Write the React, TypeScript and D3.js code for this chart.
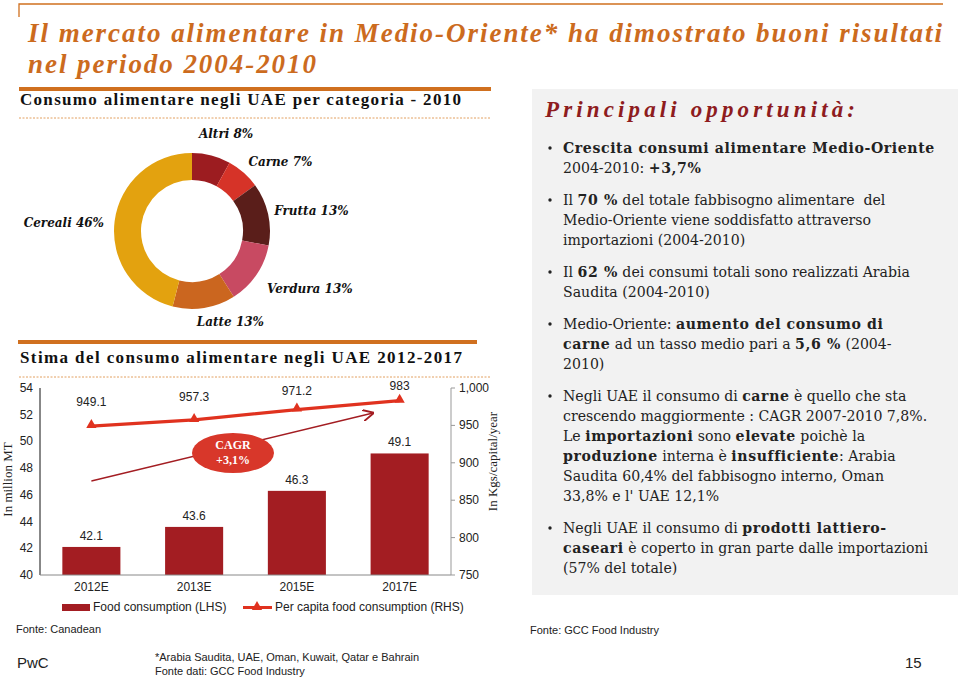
import * as d3 from 'd3';

// donut: UAE consumption by category, 2010
const categories = ['Altri', 'Carne', 'Frutta', 'Verdura', 'Latte', 'Cereali'];
const shares = [8, 7, 13, 13, 13, 46];
const sliceColors = ['#9c1c20', '#d63328', '#5a1e1a', '#c84a62', '#cb661f', '#e3a20f'];

// combo chart: UAE estimate 2012-2017
const years = ['2012E', '2013E', '2015E', '2017E'];
const foodConsumption = [42.1, 43.6, 46.3, 49.1];
const perCapita = [949.1, 957.3, 971.2, 983];
const leftTicks = [40, 42, 44, 46, 48, 50, 52, 54];
const rightTicks = [750, 800, 850, 900, 950, 1000];

type Seg = [string, boolean];
const bullets: Seg[][][] = [
  [
    [['Crescita consumi alimentare Medio-Oriente', true]],
    [['2004-2010: ', false], ['+3,7%', true]],
  ],
  [
    [['Il ', false], ['70 %', true], [' del totale fabbisogno alimentare  del', false]],
    [['Medio-Oriente viene soddisfatto attraverso', false]],
    [['importazioni (2004-2010)', false]],
  ],
  [
    [['Il ', false], ['62 %', true], [' dei consumi totali sono realizzati Arabia', false]],
    [['Saudita (2004-2010)', false]],
  ],
  [
    [['Medio-Oriente: ', false], ['aumento del consumo di', true]],
    [['carne', true], [' ad un tasso medio pari a ', false], ['5,6 %', true], [' (2004-', false]],
    [['2010)', false]],
  ],
  [
    [['Negli UAE il consumo di ', false], ['carne', true], [' è quello che sta', false]],
    [['crescendo maggiormente : CAGR 2007-2010 7,8%.', false]],
    [['Le ', false], ['importazioni', true], [' sono ', false], ['elevate', true], [' poichè la', false]],
    [['produzione', true], [' interna è ', false], ['insufficiente', true], [': Arabia', false]],
    [['Saudita 60,4% del fabbisogno interno, Oman', false]],
    [['33,8% e l\' UAE 12,1%', false]],
  ],
  [
    [['Negli UAE il consumo di ', false], ['prodotti lattiero-', true]],
    [['caseari', true], [' è coperto in gran parte dalle importazioni', false]],
    [['(57% del totale)', false]],
  ],
];

const ORANGE = '#d0701f';
const BAR = '#a31d22';
const LINE = '#e0321f';
const SANS = 'Liberation Sans, Arial, sans-serif';
const SERIF = 'Liberation Serif, Times New Roman, serif';
const BODY = 'DejaVu Serif, Georgia, serif';

export default function App() {
  // donut
  const cx = 192, cy = 231;
  const pie = d3.pie<number>().sort(null).value((d) => d)(shares);
  const arc = d3.arc<d3.PieArcDatum<number>>().innerRadius(51).outerRadius(78);
  const labelArc = d3.arc<d3.PieArcDatum<number>>().innerRadius(105).outerRadius(105);
  const labelNudge = [[8, 4], [19, 9], [17, 2], [31, -2], [22, -13], [-24, 5]];

  // combo chart
  const plot = { left: 40, right: 451, top: 388, bottom: 575 };
  const x = d3.scaleBand().domain(years).range([plot.left, plot.right]).paddingInner(0.435).paddingOuter(0.2175);
  const yL = d3.scaleLinear().domain([40, 54]).range([plot.bottom, plot.top]);
  const yR = d3.scaleLinear().domain([750, 1000]).range([plot.bottom, plot.top]);
  const cxBand = (y: string) => (x(y) ?? 0) + x.bandwidth() / 2;
  const line = d3.line<number>().x((_, i) => cxBand(years[i])).y((d) => yR(d));
  const tri = d3.symbol(d3.symbolTriangle, 46)() ?? '';
  const lineLabelDy = [-20, -19, -15, -11];

  // right panel line positions
  let yy = 153;
  const panelRows: { y: number; segs: Seg[]; first: boolean }[] = [];
  bullets.forEach((b) => {
    b.forEach((segs, i) => {
      panelRows.push({ y: yy, segs, first: i === 0 });
      yy += 20;
    });
    yy += 12;
  });

  return (
    <svg width={960} height={677} style={{ position: 'absolute', left: 0, top: 0, background: '#fff' }}>
      <defs>
        <marker id="arr" viewBox="0 0 10 10" refX="9" refY="5" markerWidth="9" markerHeight="9" orient="auto">
          <path d="M0,0 L10,5 L0,10" fill="none" stroke="#a31d22" strokeWidth={1.6} />
        </marker>
      </defs>

      {/* frame + title */}
      <path d={`M19,17 V4 H943`} fill="none" stroke={ORANGE} strokeWidth={1.3} />
      <g fill="#cc6b1e" fontFamily={SERIF} fontStyle="italic" fontWeight="bold" fontSize={27}>
        <text x={28} y={42} textLength={914} lengthAdjust="spacing">
          Il mercato alimentare in Medio-Oriente* ha dimostrato buoni risultati
        </text>
        <text x={28} y={73} textLength={288} lengthAdjust="spacing">
          nel periodo 2004-2010
        </text>
      </g>

      {/* donut section */}
      <rect x={19} y={87} width={472} height={4} fill={ORANGE} />
      <text x={20} y={105} fontFamily={SERIF} fontWeight="bold" fontSize={17} fill="#111" textLength={441} lengthAdjust="spacing">
        Consumo alimentare negli UAE per categoria - 2010
      </text>
      <line x1={19} x2={491} y1={118} y2={118} stroke="#e2a060" strokeWidth={1} strokeDasharray="2,1.5" />
      <g transform={`translate(${cx},${cy})`}>
        {pie.map((p, i) => (
          <path key={categories[i]} d={arc(p) ?? ''} fill={sliceColors[i]} />
        ))}
        {pie.map((p, i) => {
          const [lx, ly] = labelArc.centroid(p);
          return (
            <text key={'l' + i} x={lx + labelNudge[i][0]} y={ly + labelNudge[i][1] + 4.5} textAnchor="middle"
              fontFamily={BODY} fontStyle="italic" fontWeight="bold" fontSize={12} fill="#111">
              {`${categories[i]} ${shares[i]}%`}
            </text>
          );
        })}
      </g>

      {/* estimate section */}
      <rect x={18} y={340} width={459} height={4} fill={ORANGE} />
      <text x={20} y={363} fontFamily={SERIF} fontWeight="bold" fontSize={17} fill="#111" textLength={442} lengthAdjust="spacing">
        Stima del consumo alimentare negli UAE 2012-2017
      </text>
      <line x1={19} x2={491} y1={377} y2={377} stroke="#e2a060" strokeWidth={1} strokeDasharray="2,1.5" />

      {/* bars */}
      {years.map((yr, i) => (
        <g key={yr}>
          <rect x={x(yr)} y={yL(foodConsumption[i])} width={x.bandwidth()} height={plot.bottom - yL(foodConsumption[i])} fill={BAR} />
          <text x={cxBand(yr)} y={yL(foodConsumption[i]) - 7} textAnchor="middle" fontFamily={SANS} fontSize={12} fill="#222">
            {foodConsumption[i]}
          </text>
          <text x={cxBand(yr)} y={plot.bottom + 16} textAnchor="middle" fontFamily={SANS} fontSize={12} fill="#222">
            {yr}
          </text>
        </g>
      ))}

      {/* axes */}
      <line x1={plot.left} x2={plot.left} y1={plot.top} y2={plot.bottom} stroke="#111" strokeWidth={1} />
      <line x1={plot.left} x2={plot.right} y1={plot.bottom} y2={plot.bottom} stroke="#888" strokeWidth={1} />
      <line x1={plot.right} x2={plot.right} y1={plot.top} y2={plot.bottom} stroke="#999" strokeWidth={1} />
      {leftTicks.map((t) => (
        <text key={'lt' + t} x={33} y={yL(t) + 4} textAnchor="end" fontFamily={SANS} fontSize={12} fill="#222">{t}</text>
      ))}
      {rightTicks.map((t) => (
        <g key={'rt' + t}>
          <line x1={plot.right} x2={plot.right + 4} y1={yR(t)} y2={yR(t)} stroke="#999" />
          <text x={459} y={yR(t) + 4} fontFamily={SANS} fontSize={12} fill="#222">{d3.format(',')(t)}</text>
        </g>
      ))}
      <text transform={`translate(12,${(plot.top + plot.bottom) / 2 - 2}) rotate(-90)`} textAnchor="middle" fontFamily={SERIF} fontSize={13} fill="#222">
        In million MT
      </text>
      <text transform={`translate(497,${(plot.top + plot.bottom) / 2 - 20}) rotate(-90)`} textAnchor="middle" fontFamily={SERIF} fontSize={13} fill="#222">
        In Kgs/capital/year
      </text>

      {/* CAGR arrow + badge */}
      <line x1={cxBand(years[0])} y1={481} x2={373} y2={413} stroke="#a31d22" strokeWidth={1.3} markerEnd="url(#arr)" />
      <ellipse cx={233} cy={453} rx={41} ry={20} fill="#d8372a" />
      <text x={233} y={449} textAnchor="middle" fontFamily={SERIF} fontWeight="bold" fontSize={12} fill="#fff">CAGR</text>
      <text x={233} y={464} textAnchor="middle" fontFamily={SERIF} fontWeight="bold" fontSize={12} fill="#fff">+3,1%</text>

      {/* per capita line */}
      <path d={line(perCapita) ?? ''} fill="none" stroke={LINE} strokeWidth={3.2} />
      {perCapita.map((v, i) => (
        <g key={'p' + i}>
          <path d={tri} transform={`translate(${cxBand(years[i])},${yR(v) - 1})`} fill={LINE} />
          <text x={cxBand(years[i])} y={yR(v) + lineLabelDy[i]} textAnchor="middle" fontFamily={SANS} fontSize={12} fill="#222">
            {v}
          </text>
        </g>
      ))}

      {/* legend */}
      <rect x={62} y={604} width={28} height={7} fill={BAR} />
      <text x={93} y={611} fontFamily={SANS} fontSize={12} fill="#222">Food consumption (LHS)</text>
      <line x1={243} x2={272} y1={607.5} y2={607.5} stroke={LINE} strokeWidth={3} />
      <path d={tri} transform="translate(257,607)" fill={LINE} />
      <text x={275} y={611} fontFamily={SANS} fontSize={12} fill="#222">Per capita food consumption (RHS)</text>

      <text x={16} y={633} fontFamily={SANS} fontSize={11} fill="#222">Fonte: Canadean</text>

      {/* right panel */}
      <rect x={532} y={89} width={426} height={506} fill="#f2f2f2" />
      <text x={545} y={117} fontFamily={SERIF} fontStyle="italic" fontWeight="bold" fontSize={23} fill="#8e1c1e" textLength={310} lengthAdjust="spacing">
        Principali opportunità:
      </text>
      {panelRows.map((r, i) => (
        <g key={'r' + i}>
          {r.first && <circle cx={550} cy={r.y - 5} r={1.7} fill="#222" />}
          <text x={563} y={r.y} fontFamily={BODY} fontSize={14.1} fill="#222" xmlSpace="preserve">
            {r.segs.map(([t, b], j) => (
              <tspan key={j} fontWeight={b ? 'bold' : 'normal'} letterSpacing={b ? 0.6 : 0}>{t}</tspan>
            ))}
          </text>
        </g>
      ))}
      <text x={530} y={634} fontFamily={SANS} fontSize={11} fill="#222">Fonte: GCC Food Industry</text>

      {/* footer */}
      <text x={17} y={668} fontFamily={SANS} fontSize={15} fill="#222">PwC</text>
      <text x={155} y={661} fontFamily={SANS} fontSize={11} fill="#222">*Arabia Saudita, UAE, Oman, Kuwait, Qatar e Bahrain</text>
      <text x={155} y={675} fontFamily={SANS} fontSize={11} fill="#222">Fonte dati: GCC Food Industry</text>
      <text x={905} y={668} fontFamily={SANS} fontSize={15} fill="#222">15</text>
    </svg>
  );
}
